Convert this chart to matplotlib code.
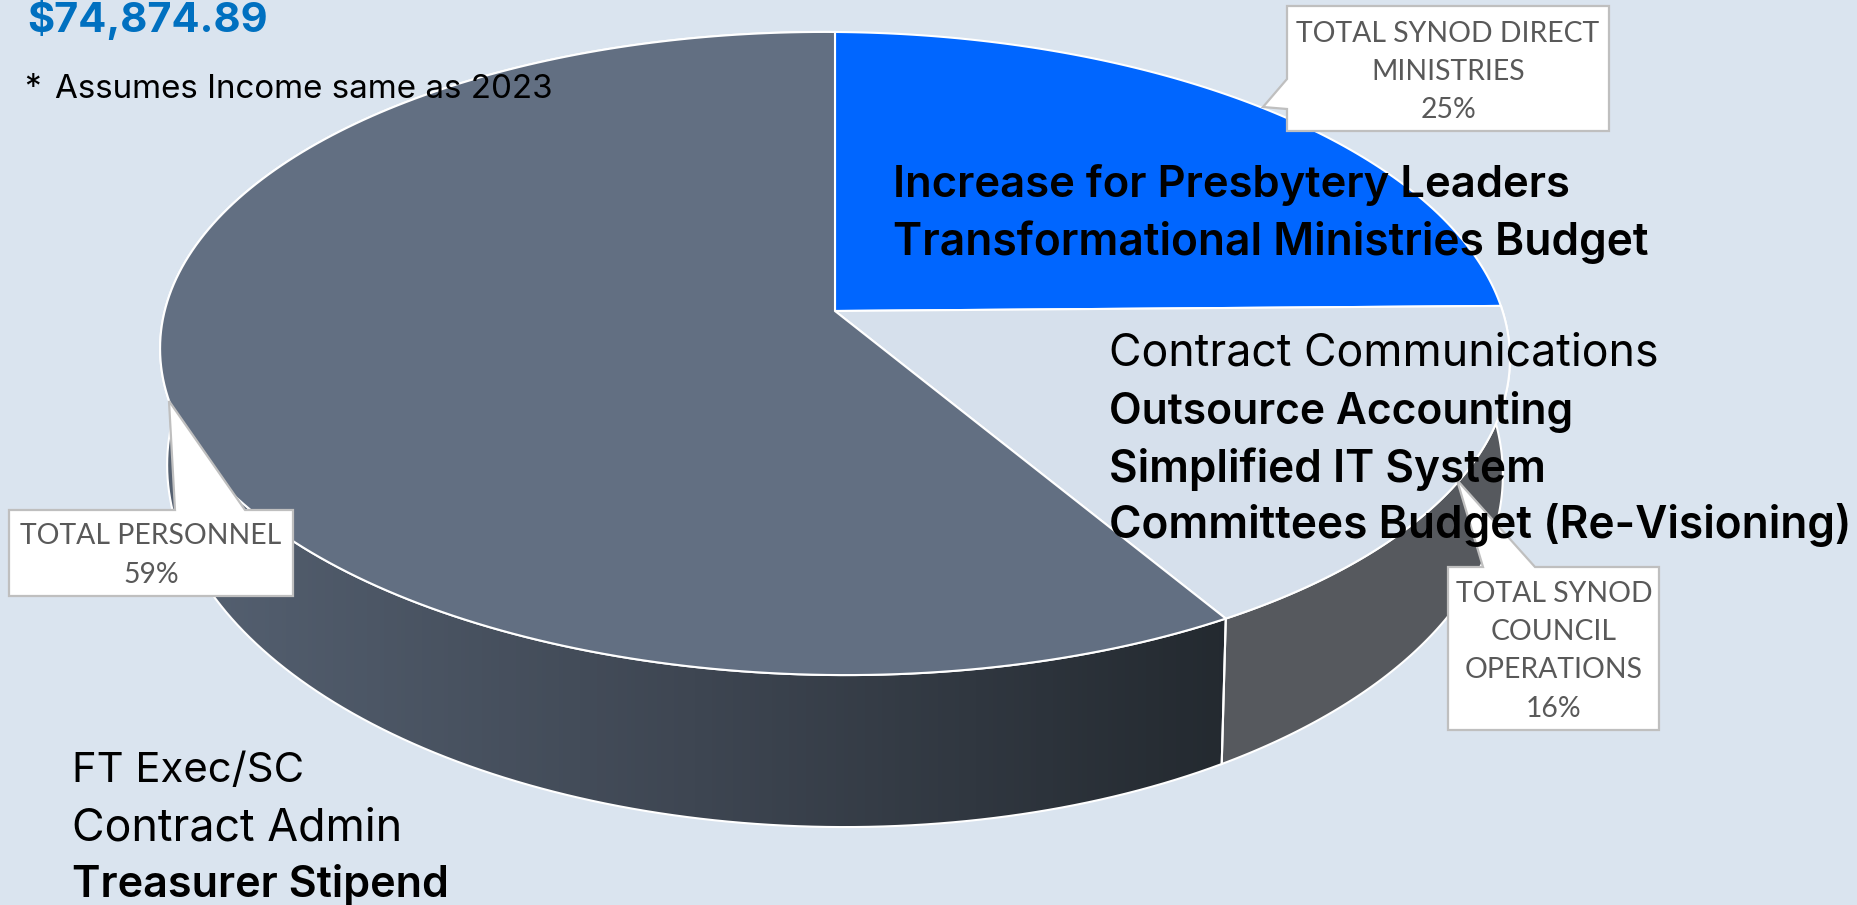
import numpy as np
import matplotlib
matplotlib.use("Agg")
import matplotlib.pyplot as plt
from matplotlib.colors import LinearSegmentedColormap
from matplotlib.patches import Polygon

# Budget share per group, in percent
categories = ["TOTAL SYNOD DIRECT\nMINISTRIES", "TOTAL SYNOD\nCOUNCIL\nOPERATIONS", "TOTAL PERSONNEL"]
shares = [25, 16, 59]

total_text = "$74,874.89"
note_text = "Assumes Income same as 2023"

# (line, is_bold) for the notes placed over the pie
direct_lines = [("Increase for Presbytery Leaders", True),
                ("Transformational Ministries Budget", True)]
council_lines = [("Contract Communications", False),
                 ("Outsource Accounting", True),
                 ("Simplified IT System", True),
                 ("Committees Budget (Re-Visioning)", True)]
personnel_lines = [("FT Exec/SC", False),
                   ("Contract Admin", False),
                   ("Treasurer Stipend", True)]

BG = "#DAE4EF"
BLUE = "#0066FF"
PALE = "#D6E0EC"
SLATE = "#626F82"
WALL_GREY = "#56595E"
LABEL_GREY = "#595959"
FRAME = "#BFBFBF"
TEXT_FONT = ["Inter", "DejaVu Sans"]
LABEL_FONT = ["Lato", "DejaVu Sans"]

CX = 835.0
K = 0.1322


# Perspective projection of a point on the unit disc, measured clockwise from 12 o'clock.
def project(theta, radius, c, d, a):
    px = radius * np.sin(theta)
    py = radius * np.cos(theta)
    w = 1 + K * py
    return CX + a * px / w, (c + d * py + 5 * px) / w


# The disc is turned slightly in 3D, which moves slice boundaries along the rim.
def rim_angle(theta):
    return theta - 0.032 * np.sin(theta) - 0.042 * np.sin(2 * theta)


def arc(start, end, c, d, a):
    t = np.linspace(start, end, 200)
    return np.column_stack(project(t, 1.0, c, d, a))


# Each line is scaled to its own pixel width so the block edges line up.
def draw_text_block(fig, ax, x, baselines, widths, lines):
    renderer = fig.canvas.get_renderer()
    for (line, bold), y, width in zip(lines, baselines, widths):
        t = ax.text(x, y, line, fontsize=32, family=TEXT_FONT, va="baseline", ha="left",
                    fontweight="semibold" if bold else "normal", color="black", zorder=10)
        t.set_fontsize(32 * width / t.get_window_extent(renderer).width)


def draw_callout(ax, outline, center_x, baselines, label, value):
    ax.add_patch(Polygon(outline, closed=True, facecolor="white", edgecolor=FRAME, lw=1.6, zorder=8))
    for line, y in zip(label.split("\n") + [f"{value}%"], baselines):
        ax.text(center_x, y, line, fontsize=20.4, family=LABEL_FONT, ha="center", va="baseline",
                color=LABEL_GREY, zorder=9)


def main():
    fig = plt.figure(figsize=(18.57, 9.05), dpi=100, facecolor=BG)
    ax = fig.add_axes([0, 0, 1, 1])
    ax.set_xlim(0, 1857)
    ax.set_ylim(905, 0)
    ax.axis("off")

    # Slice boundaries as angles
    bounds = rim_angle(2 * np.pi * np.cumsum([0] + shares) / sum(shares))
    top = (311.0, -274.8, 669.0)
    bottom = (422.8, -294.9, 662.0)

    # Side walls first, the top faces cover whatever is hidden
    for i, fill in [(1, WALL_GREY), (2, None)]:
        outer = np.vstack([arc(bounds[i], bounds[i + 1], *top),
                           arc(bounds[i + 1], bounds[i], *bottom)])
        if fill is None:
            cmap = LinearSegmentedColormap.from_list("wall", ["#566273", "#3E4652", "#23292F"])
            img = ax.imshow(np.linspace(0, 1, 256).reshape(1, -1), cmap=cmap, aspect="auto",
                            extent=(150, 1240, 905, 0), zorder=1)
            img.set_clip_path(Polygon(outer, closed=True, transform=ax.transData))
        wall = Polygon(outer, closed=True, facecolor=fill or "none", edgecolor="white", lw=1.5, zorder=2)
        ax.add_patch(wall)
    ax.set_xlim(0, 1857)
    ax.set_ylim(905, 0)

    # Top faces
    apex = np.array(project(0.0, 0.0, *top))
    for i, color in enumerate([BLUE, PALE, SLATE]):
        face = np.vstack([apex, arc(bounds[i], bounds[i + 1], *top)])
        ax.add_patch(Polygon(face, closed=True, facecolor=color, edgecolor="white", lw=1.5, zorder=3))

    # Value callouts
    draw_callout(ax, [(1287, 6), (1609, 6), (1609, 131), (1287, 131), (1287, 109), (1263, 107), (1287, 79)],
                 1448, [42, 80, 118], categories[0], shares[0])
    draw_callout(ax, [(1448, 567), (1483, 567), (1457, 480), (1535, 567), (1659, 567), (1659, 730), (1448, 730)],
                 1554, [602, 640, 678, 717], categories[1], shares[1])
    draw_callout(ax, [(9, 510), (175, 510), (169, 401), (245, 510), (293, 510), (293, 596), (9, 596)],
                 151, [544, 583], categories[2], shares[2])

    # Headline figure and notes
    ax.text(27, 32, total_text, fontsize=30, family=TEXT_FONT, fontweight="bold", color="#0070C0",
            va="baseline", zorder=10)
    ax.text(24, 98, "*", fontsize=24, family=TEXT_FONT, color="black", va="baseline", zorder=10)
    ax.text(55, 98, note_text, fontsize=23.9, family=TEXT_FONT, color="black", va="baseline", zorder=10)
    draw_text_block(fig, ax, 893, [197, 255], [677, 756], direct_lines)
    draw_text_block(fig, ax, 1109, [365, 424, 482, 538], [549, 464, 437, 742], council_lines)
    draw_text_block(fig, ax, 72, [782, 840, 897], [232, 330, 377], personnel_lines)

    fig.savefig("out.png", dpi=100, facecolor=BG)


if __name__ == "__main__":
    main()
